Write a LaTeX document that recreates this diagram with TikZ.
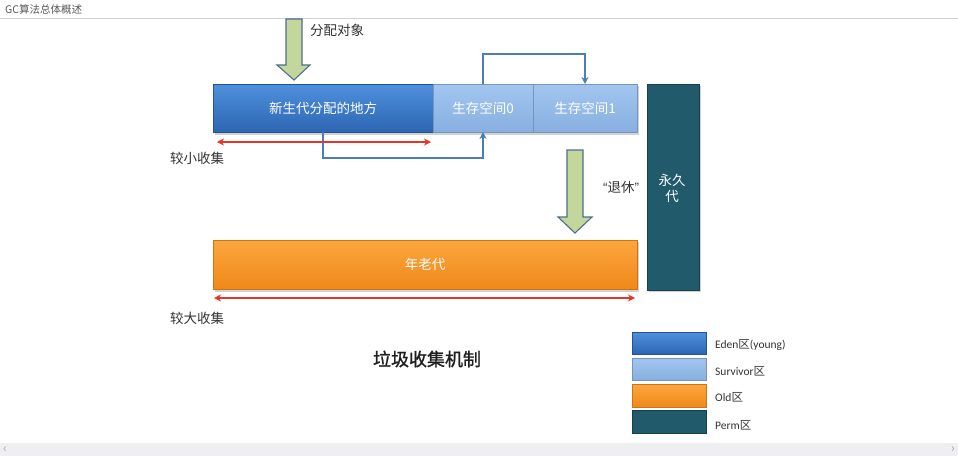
\documentclass[tikz,border=0pt]{standalone}
\usepackage{fontspec}
\setmainfont{Noto Sans CJK SC}
\newfontfamily\carl{Carlito}
\newfontfamily\quotef{Liberation Sans}
\newfontfamily\capf[FakeBold=1.2]{Noto Sans CJK SC}
\usetikzlibrary{arrows.meta}
\definecolor{edenT}{HTML}{4F90DC}
\definecolor{edenB}{HTML}{2D66B3}
\definecolor{survT}{HTML}{A2C6F0}
\definecolor{survB}{HTML}{88AFE0}
\definecolor{oldT}{HTML}{FBA73E}
\definecolor{oldB}{HTML}{F0881A}
\definecolor{perm}{HTML}{215A6B}
\definecolor{permD}{HTML}{183F4C}
\definecolor{greenF}{HTML}{C3D69B}
\definecolor{greenS}{HTML}{4F6E8E}
\definecolor{connC}{HTML}{4A7EBB}
\definecolor{redC}{HTML}{E8352A}
\definecolor{txt}{HTML}{333333}
\definecolor{barC}{HTML}{EFEEF1}
\tikzset{
  zone/.style={inner sep=0pt, outer sep=0pt, anchor=north west, text=white, font=\fontsize{13.5}{15}\selectfont},
  eden/.style={zone, top color=edenT, bottom color=edenB, draw=edenB!80!black, line width=0.4pt},
  surv/.style={zone, top color=survT, bottom color=survB, draw=survB!85!black, line width=0.4pt},
  old/.style={zone, top color=oldT, bottom color=oldB, draw=oldB!85!black, line width=0.4pt},
  permz/.style={zone, fill=perm, draw=permD, line width=0.6pt},
  shadowbox/.style={fill=black!18},
  conn/.style={draw=connC, line width=1.1pt},
  redarr/.style={draw=redC, line width=1.2pt, {Stealth[length=7pt,width=7pt]}-{Stealth[length=7pt,width=7pt]}},
  blockarr/.style={fill=greenF, draw=greenS, line width=1.1pt, line join=miter},
  lab/.style={text=txt, font=\fontsize{13.5}{15}\selectfont, inner sep=0pt},
  leg/.style={inner sep=0pt, outer sep=0pt, anchor=north west, minimum width=74pt, minimum height=22pt},
  legtxt/.style={text=txt, font=\carl\fontsize{11.5}{13}\selectfont, inner sep=0pt, anchor=west},
}
\begin{document}
\begin{tikzpicture}[x=1pt, y=-1pt]
\useasboundingbox (0,0) rectangle (958,456);
\fill[white] (0,0) rectangle (958,456);
% title bar
\node[anchor=west, inner sep=0pt, text=black!65, font=\fontsize{10.5}{12}\selectfont] (title) at (5,9) {GC算法总体概述};
\draw[black!18, line width=1.5pt] (0,18.5) -- (958,18.5);
% bottom bar
\fill[barC] (0,443) rectangle (958,456);
\node[inner sep=0pt, text=black!35, font=\fontsize{12}{12}\selectfont] (lft) at (5,450) {‹};
\node[inner sep=0pt, text=black!35, font=\fontsize{12}{12}\selectfont] (rgt) at (953,450) {›};

% shadows
\fill[shadowbox] (215,86) rectangle (639,134.5);
\fill[shadowbox] (215,242) rectangle (639,291.5);
\fill[shadowbox] (649,86) rectangle (701,292);

% zones
\node[eden, minimum width=220pt, minimum height=48pt] (eden) at (213,84) {新生代分配的地方};
\node[surv, minimum width=100pt, minimum height=48pt] (s0) at (433,84) {生存空间0};
\node[surv, minimum width=104pt, minimum height=48pt] (s1) at (533,84) {生存空间1};
\node[old, minimum width=424pt, minimum height=49pt] (old) at (213,240) {年老代};
\node[permz, minimum width=52pt, minimum height=206pt] (perm) at (647,84) {};
\node[text=white, inner sep=0pt, align=center, font=\fontsize{13.5}{16}\selectfont] (permlab) at (672,188) {永久\\代};

% block arrows
\draw[blockarr] (286,19) -- (302,19) -- (302,65) -- (310,65) -- (294,80) -- (277,65) -- (286,65) -- cycle;
\draw[blockarr] (567,150) -- (583,150) -- (583,217) -- (592,217) -- (575,233) -- (558,217) -- (567,217) -- cycle;
\node[lab, anchor=west] (alloc) at (310,30) {分配对象};
\node[lab, anchor=west] (retire) at (603,187) {{\quotef “}退休{\quotef ”}};

% connectors
\draw[conn, -{Stealth[length=7pt,width=7pt]}] (s0.north) -- ++(0,-30) -| (s1.north);
\draw[conn, -{Stealth[length=7pt,width=7pt]}] (eden.south) -- ++(0,26) -| (s0.south);

% red arrows
\coordinate (m1) at (217,142);
\coordinate (m2) at (431,142);
\draw[redarr] (m1) -- (m2);
\coordinate (M1) at (214,298);
\coordinate (M2) at (635,298);
\draw[redarr] (M1) -- (M2);
\node[lab, anchor=west] (minor) at (170,158) {较小收集};
\node[lab, anchor=west] (major) at (170,318) {较大收集};

% caption
\node[inner sep=0pt, text=black!88, font=\capf\fontsize{18}{20}\selectfont] (cap) at (427,359) {垃圾收集机制};

% legend
\node[leg, top color=edenT, bottom color=edenB, draw=edenB!80!black] (le) at (632,332) {};
\node[leg, top color=survT, bottom color=survB, draw=survB!85!black] (ls) at (632,358) {};
\node[leg, top color=oldT, bottom color=oldB, draw=oldB!85!black, minimum height=23pt] (lo) at (632,384) {};
\node[leg, fill=perm, draw=permD, minimum height=23pt] (lp) at (632,410) {};
\node[legtxt] (te) at (715,345) {Eden{\fontspec{Noto Sans CJK SC}区}(young)};
\node[legtxt] (ts) at (715,371) {Survivor{\fontspec{Noto Sans CJK SC}区}};
\node[legtxt] (to) at (715,397) {Old{\fontspec{Noto Sans CJK SC}区}};
\node[legtxt] (tp) at (715,425) {Perm{\fontspec{Noto Sans CJK SC}区}};
\end{tikzpicture}
\end{document}
